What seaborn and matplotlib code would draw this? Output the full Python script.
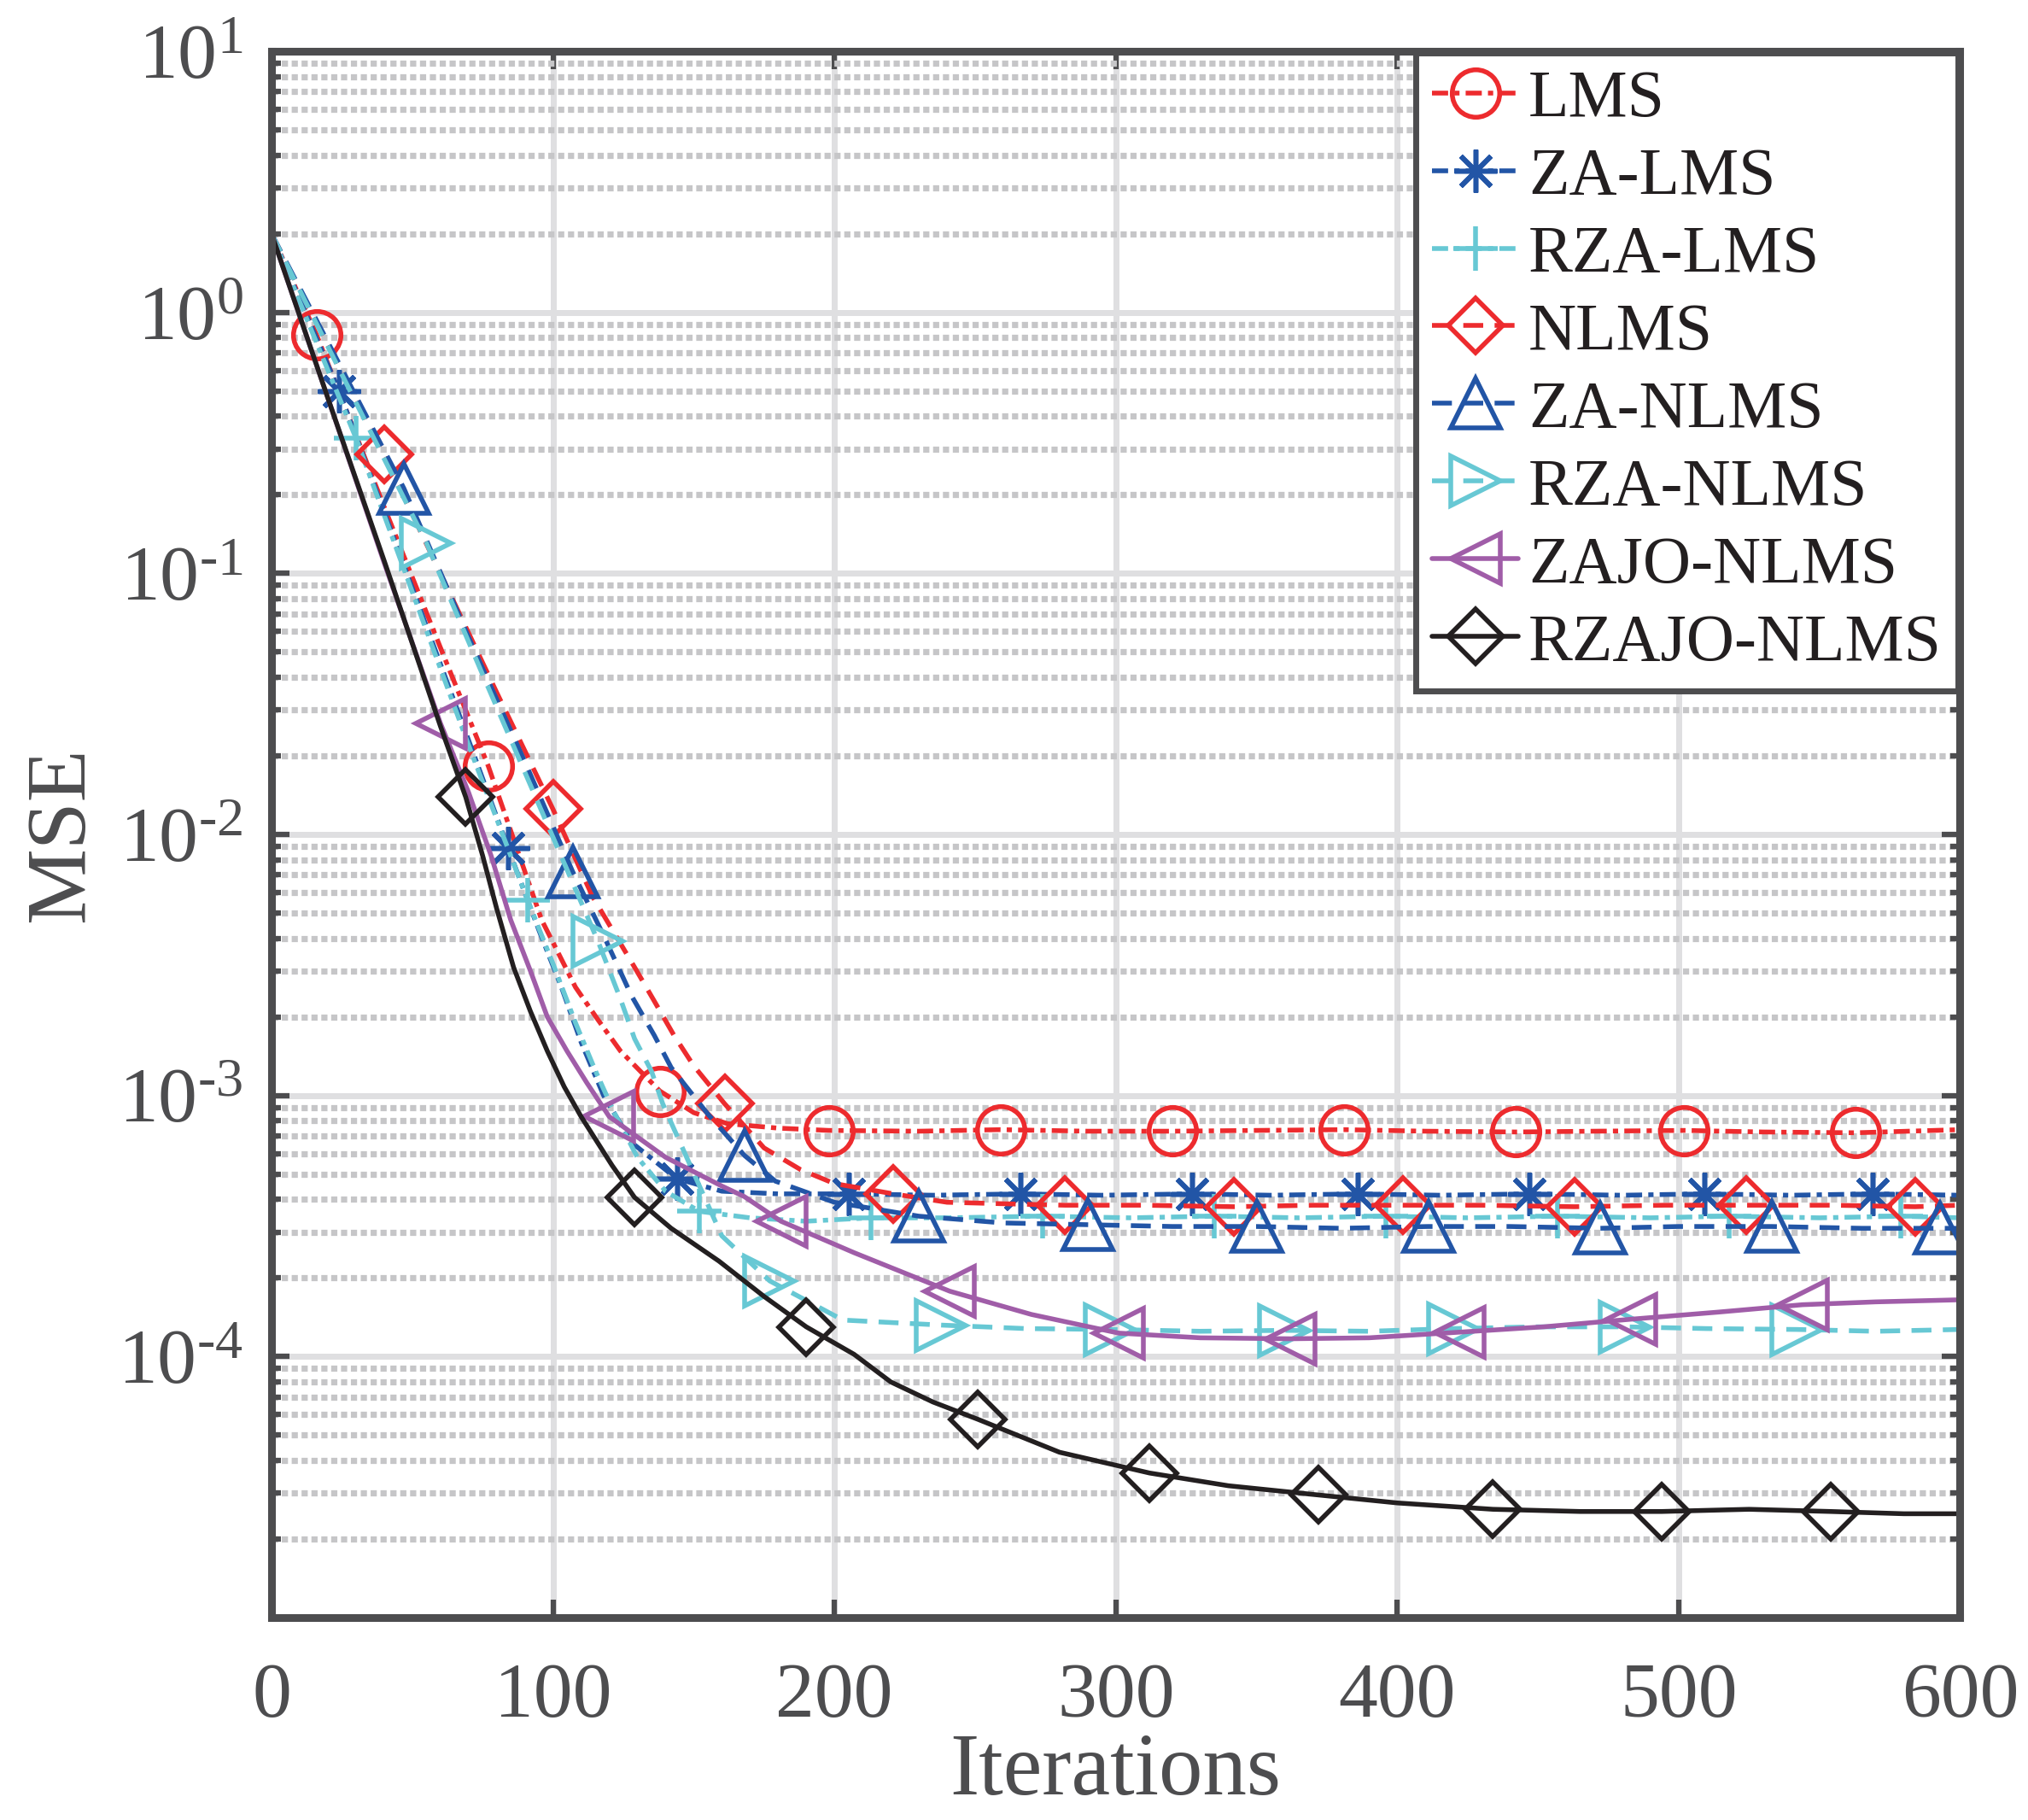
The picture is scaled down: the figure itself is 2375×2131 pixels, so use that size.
import numpy as np
import seaborn as sns
import matplotlib.pyplot as plt
from matplotlib.ticker import FixedFormatter

# --- data (iteration, MSE) ---
labels = ["LMS", "ZA-LMS", "RZA-LMS", "NLMS", "ZA-NLMS", "RZA-NLMS", "ZAJO-NLMS", "RZAJO-NLMS"]

lms_x = [0, 16, 40, 60, 77, 96, 108, 116, 124, 138, 150, 162, 180, 198, 230, 259, 290, 320, 350, 381, 410, 442, 470, 502, 530, 563, 600]
lms_y = [2.0, 0.82, 0.18, 0.052, 0.0183, 4.7e-3, 2.6e-3, 1.95e-3, 1.48e-3, 1.04e-3, 8.6e-4, 7.8e-4, 7.5e-4, 7.35e-4, 7.3e-4, 7.4e-4, 7.3e-4, 7.3e-4, 7.35e-4, 7.4e-4, 7.3e-4, 7.25e-4, 7.3e-4, 7.35e-4, 7.25e-4, 7.2e-4, 7.4e-4]
lms_mk = [16, 77, 138, 198, 259, 320, 381, 442, 502, 563]

zalms_x = [0, 24, 50, 70, 84, 95, 103, 110, 118, 128, 144, 160, 180, 205, 235, 266, 295, 327, 355, 386, 415, 447, 480, 509, 540, 569, 600]
zalms_y = [2.0, 0.5, 0.088, 0.023, 8.9e-3, 4.3e-3, 2.6e-3, 1.6e-3, 1.0e-3, 6.6e-4, 4.8e-4, 4.3e-4, 4.2e-4, 4.2e-4, 4.15e-4, 4.2e-4, 4.15e-4, 4.2e-4, 4.15e-4, 4.2e-4, 4.15e-4, 4.2e-4, 4.15e-4, 4.2e-4, 4.15e-4, 4.2e-4, 4.15e-4]
zalms_mk = [24, 84, 144, 205, 266, 327, 386, 447, 509, 569]

rzalms_x = [0, 30, 50, 70, 91, 100, 108, 115, 122, 130, 140, 152, 170, 190, 213, 240, 274, 305, 335, 365, 396, 425, 457, 490, 518, 550, 579, 600]
rzalms_y = [2.0, 0.33, 0.085, 0.022, 5.6e-3, 3.2e-3, 1.9e-3, 1.25e-3, 8.5e-4, 5.8e-4, 4.3e-4, 3.6e-4, 3.4e-4, 3.3e-4, 3.4e-4, 3.4e-4, 3.45e-4, 3.4e-4, 3.45e-4, 3.4e-4, 3.45e-4, 3.4e-4, 3.45e-4, 3.4e-4, 3.45e-4, 3.4e-4, 3.45e-4, 3.4e-4]
rzalms_mk = [30, 91, 152, 213, 274, 335, 396, 457, 518, 579]

nlms_x = [0, 20, 40, 60, 80, 100, 114, 129, 136, 143, 150, 161, 175, 188, 200, 221, 240, 260, 282, 310, 342, 370, 402, 430, 463, 495, 524, 555, 584, 600]
nlms_y = [2.0, 0.75, 0.285, 0.1, 0.035, 0.0125, 5.8e-3, 3.1e-3, 2.3e-3, 1.7e-3, 1.3e-3, 9.3e-4, 6.3e-4, 5.2e-4, 4.6e-4, 4.2e-4, 3.9e-4, 3.85e-4, 3.8e-4, 3.8e-4, 3.75e-4, 3.8e-4, 3.8e-4, 3.8e-4, 3.75e-4, 3.8e-4, 3.8e-4, 3.8e-4, 3.75e-4, 3.8e-4]
nlms_mk = [40, 100, 161, 221, 282, 342, 402, 463, 524, 584]

zanlms_x = [0, 20, 47, 70, 90, 107, 118, 128, 136, 142, 155, 168, 179, 200, 230, 260, 290, 320, 350, 380, 411, 440, 472, 500, 533, 565, 593, 600]
zanlms_y = [2.0, 0.77, 0.212, 0.057, 0.019, 7.2e-3, 4.1e-3, 2.4e-3, 1.7e-3, 1.28e-3, 8.5e-4, 5.9e-4, 4.7e-4, 3.9e-4, 3.45e-4, 3.25e-4, 3.2e-4, 3.15e-4, 3.15e-4, 3.1e-4, 3.15e-4, 3.15e-4, 3.1e-4, 3.15e-4, 3.15e-4, 3.1e-4, 3.1e-4, 3.1e-4]
zanlms_mk = [47, 107, 168, 230, 290, 350, 411, 472, 533, 593]

rzanlms_x = [0, 20, 55, 75, 95, 116, 124, 129, 135, 139, 146, 160, 177, 203, 238, 268, 298, 330, 360, 390, 420, 450, 481, 510, 542, 570, 600]
rzanlms_y = [2.0, 0.74, 0.131, 0.041, 0.013, 3.9e-3, 2.34e-3, 1.65e-3, 1.24e-3, 9.3e-4, 6.3e-4, 2.9e-4, 1.95e-4, 1.38e-4, 1.32e-4, 1.28e-4, 1.27e-4, 1.25e-4, 1.26e-4, 1.25e-4, 1.28e-4, 1.3e-4, 1.3e-4, 1.28e-4, 1.27e-4, 1.25e-4, 1.27e-4]
rzanlms_mk = [55, 116, 177, 238, 298, 360, 420, 481, 542]

zajo_x = [0, 20, 40, 60, 70, 78, 85, 92, 98, 105, 112, 120, 140, 160, 168, 181, 207, 241, 270, 301, 330, 362, 390, 422, 452, 483, 514, 544, 570, 600]
zajo_y = [2.0, 0.47, 0.11, 0.0267, 0.0145, 8.3e-3, 4.7e-3, 3.0e-3, 2.0e-3, 1.48e-3, 1.12e-3, 8.3e-4, 5.8e-4, 4.5e-4, 4.1e-4, 3.3e-4, 2.5e-4, 1.78e-4, 1.45e-4, 1.23e-4, 1.18e-4, 1.17e-4, 1.18e-4, 1.24e-4, 1.3e-4, 1.39e-4, 1.48e-4, 1.58e-4, 1.62e-4, 1.65e-4]
zajo_mk = [60, 120, 181, 241, 301, 362, 422, 483, 544]

rzajo_x = [0, 20, 40, 60, 69, 75, 80, 86, 92, 98, 104, 110, 121, 129, 142, 159, 175, 190, 207, 220, 235, 251, 280, 312, 340, 372, 400, 434, 465, 494, 525, 554, 580, 600]
rzajo_y = [2.0, 0.47, 0.112, 0.026, 0.0139, 8.3e-3, 5.2e-3, 3.1e-3, 2.1e-3, 1.48e-3, 1.08e-3, 8.3e-4, 5.4e-4, 4.07e-4, 3.1e-4, 2.32e-4, 1.7e-4, 1.3e-4, 1.02e-4, 8.0e-5, 6.7e-5, 5.75e-5, 4.3e-5, 3.58e-5, 3.2e-5, 2.95e-5, 2.75e-5, 2.6e-5, 2.55e-5, 2.55e-5, 2.6e-5, 2.55e-5, 2.5e-5, 2.5e-5]
rzajo_mk = [69, 129, 190, 251, 312, 372, 434, 494, 554]

xticks = [0, 100, 200, 300, 400, 500, 600]
yticks = [1e-4, 1e-3, 1e-2, 1e-1, 1e0, 1e1]
ytick_labels = [r"10$^{\text{-4}}$", r"10$^{\text{-3}}$", r"10$^{\text{-2}}$",
                r"10$^{\text{-1}}$", r"10$^{\text{0}}$", r"10$^{\text{1}}$"]

# --- styles ---
RED, BLUE, CYAN, PURPLE, BLACK = "#ED2B2E", "#2255A6", "#67C8D4", "#A05DA8", "#231F20"
AXC = "#4D4D4F"
DASHDOT = (0, (3.4, 1.3, 1.1, 1.3))
DASHED = (0, (4.2, 2.4))
LW = 4.0

series = [
    (lms_x, lms_y, lms_mk, RED, DASHDOT, "o", 40),
    (zalms_x, zalms_y, zalms_mk, BLUE, DASHDOT, (8, 2, 0), 36),
    (rzalms_x, rzalms_y, rzalms_mk, CYAN, DASHDOT, "+", 38),
    (nlms_x, nlms_y, nlms_mk, RED, DASHED, "D", 33),
    (zanlms_x, zanlms_y, zanlms_mk, BLUE, DASHED, "^", 42),
    (rzanlms_x, rzanlms_y, rzanlms_mk, CYAN, DASHED, ">", 42),
    (zajo_x, zajo_y, zajo_mk, PURPLE, "-", "<", 42),
    (rzajo_x, rzajo_y, rzajo_mk, BLACK, "-", "D", 33),
]

sns.set_style("ticks")
plt.rcParams["font.family"] = ["Liberation Serif", "DejaVu Serif"]
plt.rcParams["mathtext.fontset"] = "custom"
plt.rcParams["mathtext.rm"] = "Liberation Serif"
plt.rcParams["mathtext.it"] = "Liberation Serif:italic"
plt.rcParams["mathtext.default"] = "regular"

fig = plt.figure(figsize=(23.75, 21.31), dpi=100)
ax = fig.add_axes([0.1339, 0.1112, 0.8326, 0.8606])

for (xs, ys, mk, col, ls, m, ms), lab in zip(series, labels):
    idx = [xs.index(v) for v in mk]
    sns.lineplot(x=xs, y=ys, ax=ax, color=col, linestyle=ls, linewidth=LW,
                 marker=m, markersize=ms, markerfacecolor="none",
                 markeredgecolor=col, markeredgewidth=LW, markevery=idx,
                 label=lab, errorbar=None, sort=False)

ax.set_yscale("log")
ax.set_xlim(0, 600)
ax.set_ylim(1e-5, 10)
ax.set_xticks(xticks)
ax.set_yticks(yticks)
ax.yaxis.set_major_formatter(FixedFormatter(ytick_labels))

ax.set_axisbelow(True)
ax.grid(True, which="major", color="#DFDFE1", linewidth=5, linestyle="-")
ax.grid(True, which="minor", axis="y", color="#C6C6C8", linewidth=5.2, linestyle=(0, (1.0, 0.6)))

for sp in ax.spines.values():
    sp.set_color(AXC)
    sp.set_linewidth(6.5)

ax.tick_params(which="both", direction="in", top=True, right=True, colors=AXC, width=4.5)
ax.tick_params(which="major", length=15, labelsize=66)
ax.tick_params(which="minor", length=8)
ax.tick_params(axis="x", which="minor", bottom=False, top=False)
ax.tick_params(axis="x", pad=38)
ax.tick_params(axis="y", pad=24)

ax.set_xlabel("Iterations", fontsize=74, color=AXC, labelpad=0)
ax.set_ylabel("MSE", fontsize=72, color=AXC, labelpad=14)

leg = ax.legend(loc="upper right", bbox_to_anchor=(0.999, 0.999), borderaxespad=0,
                fontsize=56, handlelength=1.3, handletextpad=0.15, labelspacing=0.25,
                borderpad=0.25, fancybox=False, framealpha=1, edgecolor=AXC)
leg.get_frame().set_linewidth(5)
for t in leg.get_texts():
    t.set_color(BLACK)

fig.savefig("out.png", dpi=100)
